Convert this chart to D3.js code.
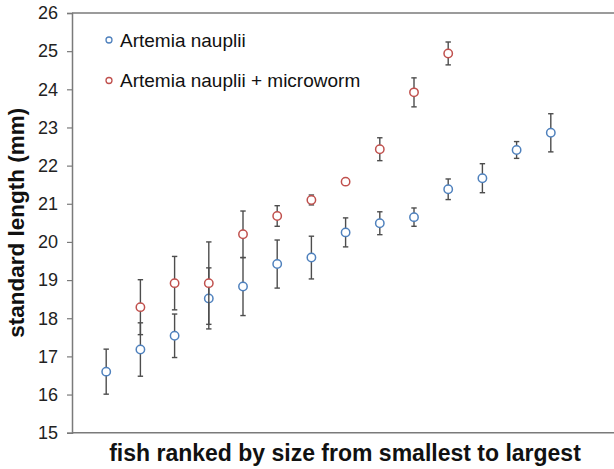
<!DOCTYPE html>
<html>
<head>
<meta charset="utf-8">
<script src="https://cdn.jsdelivr.net/npm/d3@7"></script>
<style>
  body { margin: 0; background: #fff; }
  text { font-family: "Liberation Sans", Arial, Helvetica, sans-serif; }
</style>
</head>
<body>
<svg id="chart" width="614" height="469"></svg>
<script>
// ranks and values
var blueRank = [1, 2, 3, 4, 5, 6, 7, 8, 9, 10, 11, 12, 13, 14];
var blueMean = [16.6, 17.18, 17.54, 18.52, 18.83, 19.42, 19.59, 20.25, 20.49, 20.65, 21.38, 21.67, 22.41, 22.86];
var blueErr  = [0.59, 0.7, 0.57, 0.8, 0.76, 0.63, 0.56, 0.38, 0.3, 0.24, 0.27, 0.38, 0.22, 0.5];

var redRank = [2, 3, 4, 5, 6, 7, 8, 9, 10, 11];
var redMean = [18.29, 18.92, 18.92, 20.2, 20.68, 21.1, 21.58, 22.43, 23.92, 24.94];
var redErr  = [0.72, 0.7, 1.08, 0.61, 0.27, 0.13, 0.05, 0.3, 0.38, 0.3];

var yTicks = [15, 16, 17, 18, 19, 20, 21, 22, 23, 24, 25, 26];
var legendLabels = ["Artemia nauplii", "Artemia nauplii + microworm"];

(function() {
  var W = 614, H = 469;
  var plotLeft = 72, plotTop = 13, plotBottom = 432.7;
  var blue = "#4f81bd", red = "#c0504d", barColor = "#4d4d4d", axisColor = "#7a7a7a";

  var svg = d3.select("#chart");

  var x = d3.scaleLinear().domain([0, 16]).range([plotLeft, plotLeft + 16 * 34.2]);
  var y = d3.scaleLinear().domain([15, 26]).range([plotBottom, plotTop]);

  // axes
  var yAxis = d3.axisLeft(y).tickValues(yTicks).tickSize(5).tickPadding(9).tickFormat(d3.format("d"));
  var gy = svg.append("g").attr("transform", "translate(" + plotLeft + ",0)").call(yAxis);
  gy.select(".domain").attr("stroke", axisColor).attr("stroke-width", 1.5);
  gy.selectAll(".tick line").attr("stroke", axisColor).attr("stroke-width", 1.2);
  gy.selectAll(".tick text").attr("fill", "#222").style("font-size", "18px");

  svg.append("line").attr("x1", plotLeft).attr("x2", W).attr("y1", plotBottom).attr("y2", plotBottom)
    .attr("stroke", axisColor).attr("stroke-width", 1.5);
  svg.append("line").attr("x1", plotLeft).attr("x2", W).attr("y1", plotTop).attr("y2", plotTop)
    .attr("stroke", axisColor).attr("stroke-width", 1.5);

  // axis titles
  svg.append("text")
    .attr("transform", "translate(24," + ((plotTop + plotBottom) / 2) + ") rotate(-90)")
    .attr("text-anchor", "middle")
    .style("font-size", "22.5px").style("font-weight", "bold").attr("fill", "#111")
    .text("standard length (mm)");

  svg.append("text")
    .attr("x", 345).attr("y", 461)
    .attr("text-anchor", "middle")
    .style("font-size", "23px").style("font-weight", "bold").attr("fill", "#111")
    .text("fish ranked by size from smallest to largest");

  function drawSeries(ranks, means, errs, color) {
    var pts = ranks.map(function(r, i) { return {r: r, m: means[i], e: errs[i]}; });
    var g = svg.append("g");
    var bars = g.selectAll("g.bar").data(pts).enter().append("g");
    bars.append("line")
      .attr("x1", function(d) { return x(d.r); }).attr("x2", function(d) { return x(d.r); })
      .attr("y1", function(d) { return y(d.m - d.e); }).attr("y2", function(d) { return y(d.m + d.e); })
      .attr("stroke", barColor).attr("stroke-width", 1.4);
    [-1, 1].forEach(function(s) {
      bars.append("line")
        .attr("x1", function(d) { return x(d.r) - 2.7; }).attr("x2", function(d) { return x(d.r) + 2.7; })
        .attr("y1", function(d) { return y(d.m + s * d.e); }).attr("y2", function(d) { return y(d.m + s * d.e); })
        .attr("stroke", barColor).attr("stroke-width", 1.4);
    });
    g.selectAll("circle").data(pts).enter().append("circle")
      .attr("cx", function(d) { return x(d.r); })
      .attr("cy", function(d) { return y(d.m); })
      .attr("r", 4.2)
      .attr("fill", "#fff")
      .attr("stroke", color).attr("stroke-width", 1.5);
  }

  drawSeries(blueRank, blueMean, blueErr, blue);
  drawSeries(redRank, redMean, redErr, red);

  // legend
  var legend = svg.append("g");
  [blue, red].forEach(function(c, i) {
    var ly = 40 + i * 40.5;
    legend.append("circle").attr("cx", 109).attr("cy", ly).attr("r", 3)
      .attr("fill", "#fff").attr("stroke", c).attr("stroke-width", 1.3);
    legend.append("text").attr("x", 120).attr("y", ly + 6.8)
      .style("font-size", "19px").attr("fill", "#111")
      .text(legendLabels[i]);
  });
})();
</script>
</body>
</html>
